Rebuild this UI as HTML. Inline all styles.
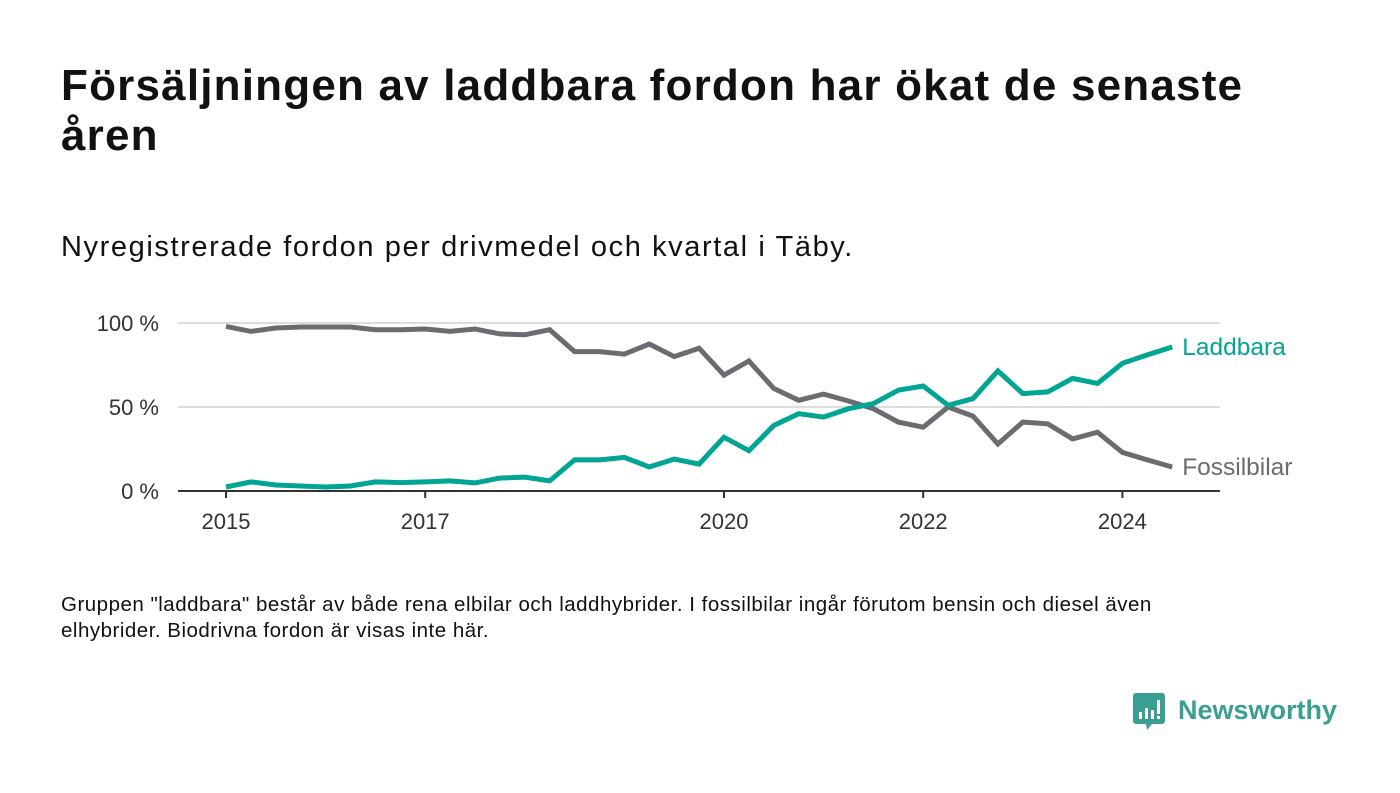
<!DOCTYPE html>
<html><head><meta charset="utf-8">
<style>
body{margin:0;width:1400px;height:793px;background:#fff;font-family:"Liberation Sans","DejaVu Sans",sans-serif;color:#111;position:relative;overflow:hidden}
#title{position:absolute;left:61px;top:61px;width:1240px;font-size:44px;font-weight:bold;line-height:50px;margin:0;letter-spacing:1.2px}
#subtitle{position:absolute;left:61px;top:231px;font-size:29px;letter-spacing:1.6px;margin:0}
#note{position:absolute;left:61px;top:592px;font-size:20.5px;letter-spacing:0.5px;line-height:26px;width:1180px;margin:0}
#chart{position:absolute;left:0;top:0}
#logo{position:absolute;left:1133px;top:693px}
</style></head><body>
<h1 id="title">Försäljningen av laddbara fordon har ökat de senaste åren</h1>
<p id="subtitle">Nyregistrerade fordon per drivmedel och kvartal i Täby.</p>
<svg id="chart" width="1400" height="793"></svg>
<p id="note">Gruppen "laddbara" består av både rena elbilar och laddhybrider. I fossilbilar ingår förutom bensin och diesel även elhybrider. Biodrivna fordon är visas inte här.</p>
<div id="logo">
<svg width="210" height="42">
<path d="M0 3 a3 3 0 0 1 3-3 h26 a3 3 0 0 1 3 3 v25 a3 3 0 0 1-3 3 h-10 l-5 6 l-1-6 h-10 a3 3 0 0 1-3-3z" fill="#3a9e92"/>
<rect x="6" y="19" width="3" height="7" fill="#fff"/><rect x="12" y="15" width="3" height="11" fill="#fff"/><rect x="18" y="17" width="3" height="9" fill="#fff"/><rect x="24" y="7" width="3" height="14" fill="#fff"/><rect x="24" y="23" width="3" height="3" fill="#fff"/>
<text x="45" y="26" font-size="27" font-weight="bold" fill="#3a9e92" font-family="Liberation Sans, sans-serif">Newsworthy</text>
</svg></div>
<script>
const startYear = 2015;
const laddbara = [2.4,5.4,3.6,3,2.4,3,5.4,5,5.4,6,4.8,7.7,8.3,6,18.5,18.5,20,14.3,19,16,32,24,39,46,44,49,52,60,62.5,51,55,71.5,58,59,67,64,76,81,85.7];
const fossil = [98,95,97,97.6,97.6,97.6,96,96,96.4,95,96.4,93.5,93,96,83,83,81.5,87.5,80,85,69,77.4,61,54,57.7,53.6,49,41,38,50,44.6,28,41,40,31,35,23,18.5,14.3];
const yTicks = [0,50,100];
const yLabels = ["0 %","50 %","100 %"];
const xTicks = [2015,2017,2020,2022,2024];
const svg = document.getElementById('chart');
const NS = 'http://www.w3.org/2000/svg';
function x(t){return 226 + (t - startYear) * 99.6;}
function y(v){return 491 - v * 1.68;}
function mk(tag, attrs){const e=document.createElementNS(NS,tag);for(const k in attrs)e.setAttribute(k,attrs[k]);svg.appendChild(e);return e;}
yTicks.forEach((v,i)=>{
  if(v>0){const g=mk('line',{x1:178,x2:1220,y1:y(v),y2:y(v),stroke:'#ddd','stroke-width':2});
  
  }
  const t=mk('text',{x:159,y:y(v)+8,'text-anchor':'end','font-size':22,fill:'#333'});
  t.textContent=yLabels[i];
  
  
});
const ax=mk('line',{x1:178,x2:1220,y1:491,y2:491,stroke:'#333','stroke-width':2});


xTicks.forEach(yr=>{
  const tk=mk('line',{x1:x(yr),x2:x(yr),y1:491,y2:498,stroke:'#333','stroke-width':2});
  
  
  const t=mk('text',{x:x(yr),y:529,'text-anchor':'middle','font-size':22,fill:'#333'});
  t.textContent=yr;
  
  
});
function series(vals,color,name,label){
  const pts=vals.map((v,i)=>x(startYear+i/4).toFixed(1)+','+y(v).toFixed(1)).join(' ');
  const p=mk('polyline',{points:pts,fill:'none',stroke:color,'stroke-width':5,'stroke-linejoin':'miter'});
  
  
  const last=vals[vals.length-1];
  const t=mk('text',{x:x(startYear+(vals.length-1)/4)+10,y:y(last)+8,'font-size':24.5,fill:color});
  t.textContent=label;
  
  
}
series(fossil,'#6d6b72','fossilbilar','Fossilbilar');
series(laddbara,'#00a593','laddbara','Laddbara');
</script>
</body></html>
